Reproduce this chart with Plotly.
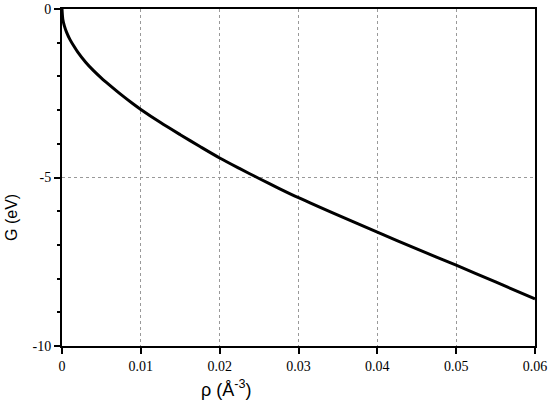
import plotly.graph_objects as go

rho = [0, 0.0001, 0.0003, 0.0006, 0.001, 0.0015, 0.002, 0.003, 0.004, 0.005,
       0.006, 0.0075, 0.009, 0.01, 0.0125, 0.015, 0.0175, 0.02, 0.0225, 0.025,
       0.0275, 0.03, 0.035, 0.04, 0.045, 0.05, 0.055, 0.06]
G = [0, -0.3, -0.5, -0.7, -0.9, -1.1, -1.28, -1.58, -1.83, -2.05,
     -2.25, -2.54, -2.81, -2.98, -3.37, -3.73, -4.08, -4.42, -4.73, -5.03,
     -5.32, -5.6, -6.12, -6.62, -7.12, -7.6, -8.1, -8.6]

x_ticks = [0, 0.01, 0.02, 0.03, 0.04, 0.05, 0.06]
x_labels = ["0", "0.01", "0.02", "0.03", "0.04", "0.05", "0.06"]
y_ticks = [-10, -5, 0]
y_labels = ["-10", "-5", "0"]
x_title = "ρ (Å<sup>-3</sup>)"
y_title = "G (eV)"

fig = go.Figure()
fig.add_trace(go.Scatter(x=rho, y=G, mode="lines",
                         line=dict(color="black", width=3, shape="spline", smoothing=0.8)))

fig.update_layout(
    width=553, height=402,
    margin=dict(l=62, r=18, t=9, b=56, autoexpand=False),
    plot_bgcolor="white", paper_bgcolor="white",
    showlegend=False,
)
fig.add_annotation(text=x_title, xref="paper", yref="paper", x=0.347, y=-0.125,
                   xanchor="center", yanchor="middle", showarrow=False,
                   font=dict(family="Liberation Sans, Arial, sans-serif", size=18, color="black"))
fig.add_annotation(text=y_title, xref="paper", yref="paper", x=0, y=0.38,
                   xanchor="center", yanchor="middle", showarrow=False, textangle=-90, xshift=-50,
                   font=dict(family="Liberation Sans, Arial, sans-serif", size=16, color="black"))
fig.update_xaxes(
    range=[0, 0.06], tickvals=x_ticks, ticktext=x_labels, automargin=False,
    showgrid=True, gridcolor="#999999", griddash="dot", gridwidth=1,
    showline=True, linecolor="black", linewidth=2, mirror=True,
    ticks="outside", ticklen=6, tickcolor="black", tickwidth=1.5,
    tickfont=dict(family="Liberation Serif, Times New Roman, serif", size=14, color="black"),
    zeroline=False,
)
fig.update_yaxes(
    range=[-10, 0], tickvals=y_ticks, ticktext=y_labels, automargin=False,
    showgrid=True, gridcolor="#999999", griddash="dot", gridwidth=1,
    showline=True, linecolor="black", linewidth=2, mirror=True,
    ticks="outside", ticklen=6, tickcolor="black", tickwidth=1.5,
    minor=dict(dtick=1, ticks="outside", ticklen=3, tickcolor="black", showgrid=False),
    tickfont=dict(family="Liberation Serif, Times New Roman, serif", size=14, color="black"),
    zeroline=False,
)

fig.write_html("out.html")
